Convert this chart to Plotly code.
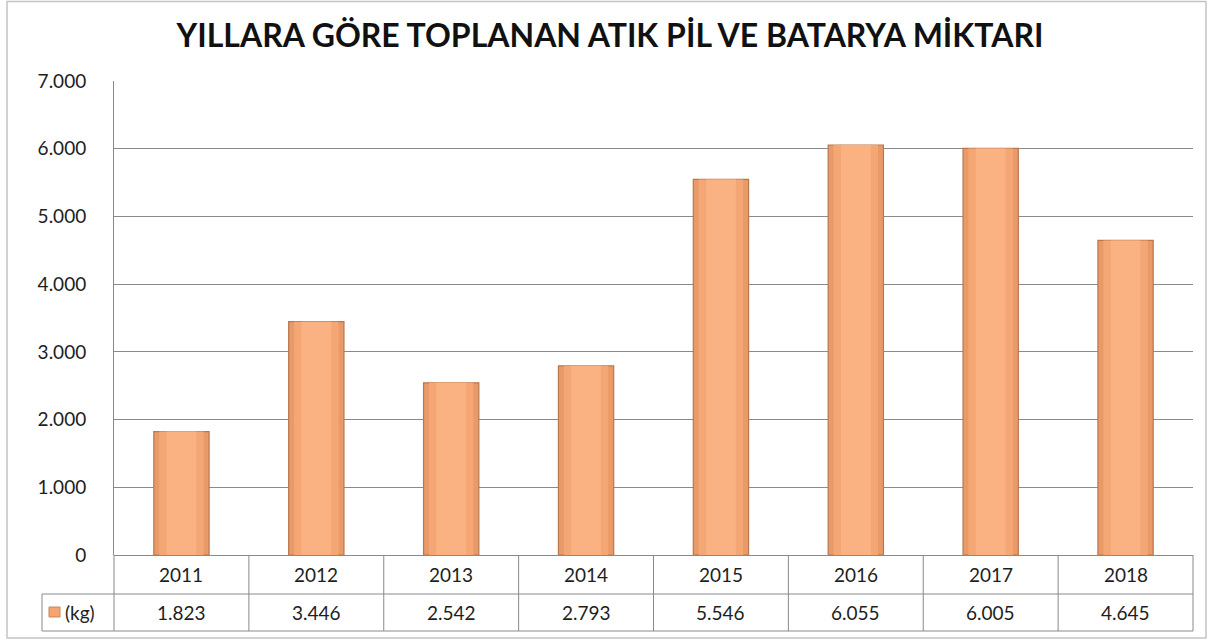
import plotly.graph_objects as go

years = ["2011", "2012", "2013", "2014", "2015", "2016", "2017", "2018"]
values_kg = [1823, 3446, 2542, 2793, 5546, 6055, 6005, 4645]
series_name = "(kg)"
title_text = "YILLARA GÖRE TOPLANAN ATIK PİL VE BATARYA MİKTARI"
y_ticks = [0, 1000, 2000, 3000, 4000, 5000, 6000, 7000]

W, H = 1218, 641
L, R, T, B = 114, 25, 81, 86
pw, ph = W - L - R, H - T - B

def px_x(x):
    return (x - L) / pw

def px_y(y):
    return (H - B - y) / ph

def fmt(v):
    return f"{v:,}".replace(",", ".")

FONT = "Lato"
GRID = "#8a8a8a"
TXT = "#1e1e1e"

fig = go.Figure()
fig.add_trace(go.Bar(
    x=years, y=values_kg, width=0.41,
    marker=dict(color="#E99A69", line=dict(color="#B9774F", width=1.2)),
    name=series_name, showlegend=False,
))
fig.add_trace(go.Bar(
    x=years, y=values_kg, width=0.33,
    marker=dict(color="#F4A775", line=dict(width=0)),
    showlegend=False, hoverinfo="skip",
))
fig.add_trace(go.Bar(
    x=years, y=values_kg, width=0.22,
    marker=dict(color="#FAB283", line=dict(width=0)),
    showlegend=False, hoverinfo="skip",
))

shapes = []
ann = []
# outer frame
shapes.append(dict(type="rect", xref="paper", yref="paper",
                   x0=px_x(7), x1=px_x(1206), y0=px_y(638), y1=px_y(1.5),
                   line=dict(color="#c4c4c4", width=1.5), layer="below"))
# table
y_top, y_mid, y_bot = px_y(555), px_y(594), px_y(631)
x_leg = px_x(42)
line = dict(color=GRID, width=1)
shapes.append(dict(type="line", xref="paper", yref="paper", x0=x_leg, x1=1, y0=y_mid, y1=y_mid, line=line))
shapes.append(dict(type="line", xref="paper", yref="paper", x0=x_leg, x1=1, y0=y_bot, y1=y_bot, line=line))
shapes.append(dict(type="line", xref="paper", yref="paper", x0=x_leg, x1=x_leg, y0=y_bot, y1=y_mid, line=line))
n = len(years)
for i in range(n + 1):
    shapes.append(dict(type="line", xref="paper", yref="paper", x0=i / n, x1=i / n,
                       y0=y_bot, y1=y_top, line=line))
for i, (yr, v) in enumerate(zip(years, values_kg)):
    xc = (i + 0.5) / n
    ann.append(dict(x=xc, y=(y_top + y_mid) / 2, xref="paper", yref="paper", text=yr,
                    xanchor="center", yanchor="middle",
                    showarrow=False, font=dict(family=FONT, size=19, color=TXT)))
    ann.append(dict(x=xc, y=(y_mid + y_bot) / 2, xref="paper", yref="paper", text=fmt(v),
                    xanchor="center", yanchor="middle",
                    showarrow=False, font=dict(family=FONT, size=19, color=TXT)))
# legend key
shapes.append(dict(type="rect", xref="paper", yref="paper",
                   x0=px_x(49), x1=px_x(60), y0=px_y(617), y1=px_y(607),
                   fillcolor="#F2A571", line=dict(color="#C9855C", width=1)))
ann.append(dict(x=px_x(63), y=(y_mid + y_bot) / 2, xref="paper", yref="paper", text=series_name,
                xanchor="left", yanchor="middle", showarrow=False,
                font=dict(family=FONT, size=19, color=TXT)))

fig.update_layout(
    width=W, height=H,
    margin=dict(l=L, r=R, t=T, b=B),
    paper_bgcolor="white", plot_bgcolor="white",
    barmode="overlay",
    separators=",.",
    title=dict(text=f"<b>{title_text}</b>", x=px_x(610), xref="paper", xanchor="center",
               y=1 - 36 / H, yanchor="middle",
               font=dict(family=FONT, size=32, color="#111")),
    xaxis=dict(showticklabels=False, showgrid=False, zeroline=False, showline=False, ticks=""),
    yaxis=dict(range=[0, 7000], tickvals=y_ticks, tickformat=",d", showgrid=True,
               gridcolor=GRID, gridwidth=1, zeroline=True, zerolinecolor=GRID, zerolinewidth=1,
               showline=True, linecolor=GRID, linewidth=1, ticks="", ticklabelstandoff=23,
               tickfont=dict(family=FONT, size=19, color=TXT)),
    shapes=shapes, annotations=ann,
)
fig.write_html("out.html", config={"displayModeBar": False},
               post_script="document.body.style.margin='0';")
